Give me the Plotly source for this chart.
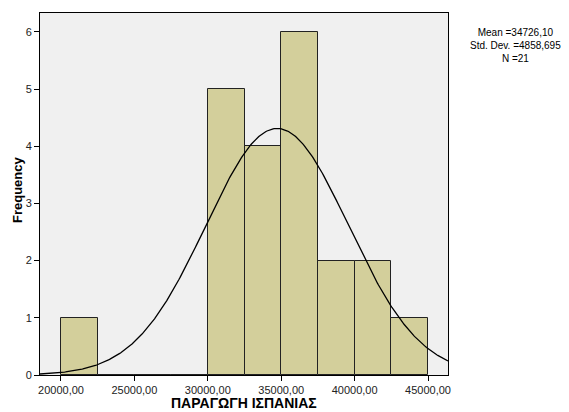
import numpy as np
import plotly.graph_objects as go

bin_starts = [20000, 22500, 25000, 27500, 30000, 32500, 35000, 37500, 40000, 42500]
counts = [1, 0, 0, 0, 5, 4, 6, 2, 2, 1]
bin_width = 2500
mean = 34726.10
sd = 4858.695
n = 21
x_tickvals = [20000, 25000, 30000, 35000, 40000, 45000]
x_ticktext = ["20000,00", "25000,00", "30000,00", "35000,00", "40000,00", "45000,00"]
y_tickvals = [0, 1, 2, 3, 4, 5, 6]

xr = [18570, 46360]
centers = [b + bin_width / 2 for b in bin_starts]

xs = np.linspace(xr[0], xr[1], 400)
ys = n * bin_width / (sd * np.sqrt(2 * np.pi)) * np.exp(-0.5 * ((xs - mean) / sd) ** 2)

fig = go.Figure()
fig.add_trace(go.Bar(x=centers, y=counts, width=bin_width,
                     marker=dict(color="#D3CF9B", line=dict(color="#222222", width=1)),
                     hoverinfo="skip"))
fig.add_trace(go.Scatter(x=xs, y=ys, mode="lines", line=dict(color="black", width=1.3),
                         hoverinfo="skip"))

font = "Liberation Sans, Arial, sans-serif"
fig.update_layout(
    width=569, height=412,
    margin=dict(l=40, r=121, t=13, b=37),
    paper_bgcolor="white", plot_bgcolor="#F0F0F0",
    showlegend=False, bargap=0,
    font=dict(family=font, size=11, color="#222222"),
    xaxis=dict(range=xr, tickvals=x_tickvals, ticktext=x_ticktext, automargin=False,
               showgrid=False, zeroline=False, showline=True, linecolor="black",
               linewidth=1, mirror=True, ticks="outside", ticklen=5, tickcolor="black",
               tickfont=dict(size=11, color="#222222")),
    yaxis=dict(range=[0, 6.33], tickvals=y_tickvals, automargin=False,
               showgrid=False, zeroline=False, showline=True, linecolor="black",
               linewidth=1, mirror=True, ticks="outside", ticklen=5, tickcolor="black",
               tickfont=dict(size=11, color="#222222")),
    annotations=[
        dict(xref="paper", yref="paper", x=(515 - 40) / 408, y=1 - (45 - 13) / 362,
             text="Mean =34726,10<br>Std. Dev. =4858,695<br>N =21",
             showarrow=False, align="center", xanchor="center", yanchor="middle",
             font=dict(size=10, color="black", family=font)),
        dict(xref="paper", yref="paper", x=0.5, y=-(403 - 375) / 362,
             text="<b>ΠΑΡΑΓΩΓΗ ΙΣΠΑΝΙΑΣ</b>", showarrow=False,
             xanchor="center", yanchor="middle",
             font=dict(size=14, color="black", family=font)),
        dict(xref="paper", yref="paper", x=-(40 - 17) / 408, y=1 - (190 - 13) / 362,
             text="<b>Frequency</b>", showarrow=False, textangle=-90,
             xanchor="center", yanchor="middle",
             font=dict(size=13, color="black", family=font)),
    ]
)
fig.write_html("out.html")
